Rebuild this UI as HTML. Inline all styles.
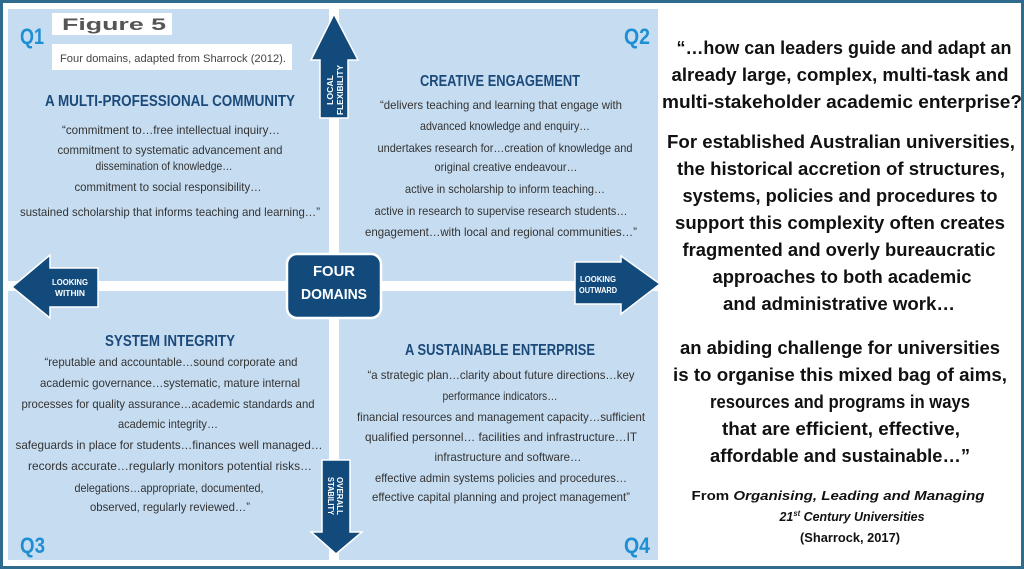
<!DOCTYPE html>
<html><head><meta charset="utf-8"><style>
html,body{margin:0;padding:0;background:#fff;}
svg{display:block;}
</style></head><body>
<svg width="1024" height="569" viewBox="0 0 1024 569" xmlns="http://www.w3.org/2000/svg" font-family="Liberation Sans, Arial, sans-serif">
<rect x="1.5" y="1.5" width="1021" height="566" fill="#fff" stroke="#2f6b8c" stroke-width="3"/>
<rect x="8" y="9" width="650" height="551" fill="#c6dcf0"/>
<rect x="329" y="9" width="10" height="551" fill="#fff"/>
<rect x="8" y="281" width="650" height="10" fill="#fff"/>
<g fill="#124a7c" stroke="#fff" stroke-width="1.5">
<polygon points="334,14 358,60 348,60 348,118 320,118 320,60 311,60"/>
<polygon points="12,287 50,255 50,268 98,268 98,307 50,307 50,318"/>
<polygon points="660,284 621,256 621,262 575,262 575,304 621,304 621,314"/>
<polygon points="336,554 362,532 350,532 350,460 322,460 322,532 311,532"/>
<rect x="287" y="254" width="94" height="64" rx="10" ry="10" stroke-width="2.5"/>
</g>
<g fill="#fff" font-weight="bold" text-anchor="middle">
<text x="334" y="276" font-size="15" textLength="42" lengthAdjust="spacingAndGlyphs">FOUR</text>
<text x="334" y="299" font-size="15" textLength="66" lengthAdjust="spacingAndGlyphs">DOMAINS</text>
<text x="70" y="285" font-size="8" textLength="36" lengthAdjust="spacingAndGlyphs">LOOKING</text>
<text x="70" y="296" font-size="8" textLength="30" lengthAdjust="spacingAndGlyphs">WITHIN</text>
<text x="598" y="282" font-size="8" textLength="36" lengthAdjust="spacingAndGlyphs">LOOKING</text>
<text x="598" y="293" font-size="8" textLength="38" lengthAdjust="spacingAndGlyphs">OUTWARD</text>
<text transform="translate(333,90) rotate(-90)" font-size="8" textLength="30" lengthAdjust="spacingAndGlyphs">LOCAL</text>
<text transform="translate(343,90) rotate(-90)" font-size="8" textLength="50" lengthAdjust="spacingAndGlyphs">FLEXIBILITY</text>
<text transform="translate(337,496) rotate(90)" font-size="8" textLength="38" lengthAdjust="spacingAndGlyphs">OVERALL</text>
<text transform="translate(328,496) rotate(90)" font-size="8" textLength="38" lengthAdjust="spacingAndGlyphs">STABILITY</text>
</g>
<g fill="#1d8fd2" font-weight="bold" font-size="22">
<text x="20" y="44" textLength="24" lengthAdjust="spacingAndGlyphs">Q1</text>
<text x="624" y="44" textLength="26" lengthAdjust="spacingAndGlyphs">Q2</text>
<text x="20" y="553" textLength="25" lengthAdjust="spacingAndGlyphs">Q3</text>
<text x="624" y="553" textLength="26" lengthAdjust="spacingAndGlyphs">Q4</text>
</g>
<rect x="52" y="13" width="120" height="22" fill="#fff"/>
<text x="62" y="30" font-size="17" font-weight="bold" fill="#555" textLength="104" lengthAdjust="spacingAndGlyphs">Figure 5</text>
<rect x="52" y="44" width="240" height="26" fill="#fff"/>
<text x="60" y="62" font-size="11" fill="#444" textLength="226" lengthAdjust="spacingAndGlyphs">Four domains, adapted from Sharrock (2012).</text>
<g fill="#1b4a7a" font-weight="bold" font-size="16" text-anchor="middle">
<text x="170" y="106" textLength="250" lengthAdjust="spacingAndGlyphs">A MULTI-PROFESSIONAL COMMUNITY</text>
<text x="500" y="86" textLength="160" lengthAdjust="spacingAndGlyphs">CREATIVE ENGAGEMENT</text>
<text x="170" y="346" textLength="130" lengthAdjust="spacingAndGlyphs">SYSTEM INTEGRITY</text>
<text x="500" y="355" textLength="190" lengthAdjust="spacingAndGlyphs">A SUSTAINABLE ENTERPRISE</text>
</g>
<g fill="#333" font-size="12" text-anchor="middle">
<text x="171" y="134" textLength="218" lengthAdjust="spacingAndGlyphs">“commitment to…free intellectual inquiry…</text>
<text x="170" y="154" textLength="225" lengthAdjust="spacingAndGlyphs">commitment to systematic advancement and</text>
<text x="164" y="170" textLength="137" lengthAdjust="spacingAndGlyphs">dissemination of knowledge…</text>
<text x="168" y="191" textLength="187" lengthAdjust="spacingAndGlyphs">commitment to social responsibility…</text>
<text x="170" y="216" textLength="300" lengthAdjust="spacingAndGlyphs">sustained scholarship that informs teaching and learning…”</text>
<text x="501" y="109" textLength="242" lengthAdjust="spacingAndGlyphs">“delivers teaching and learning that engage with</text>
<text x="505" y="130" textLength="170" lengthAdjust="spacingAndGlyphs">advanced knowledge and enquiry…</text>
<text x="505" y="152" textLength="255" lengthAdjust="spacingAndGlyphs">undertakes research for…creation of  knowledge and</text>
<text x="506" y="171" textLength="143" lengthAdjust="spacingAndGlyphs">original creative endeavour…</text>
<text x="505" y="193" textLength="200" lengthAdjust="spacingAndGlyphs">active in scholarship to inform teaching…</text>
<text x="501" y="215" textLength="253" lengthAdjust="spacingAndGlyphs">active in research to supervise research students…</text>
<text x="501" y="236" textLength="272" lengthAdjust="spacingAndGlyphs">engagement…with local and regional communities…”</text>
<text x="171" y="366" textLength="253" lengthAdjust="spacingAndGlyphs">“reputable and accountable…sound corporate and</text>
<text x="170" y="387" textLength="260" lengthAdjust="spacingAndGlyphs">academic governance…systematic, mature internal</text>
<text x="168" y="408" textLength="293" lengthAdjust="spacingAndGlyphs">processes for quality assurance…academic standards and</text>
<text x="168" y="428" textLength="100" lengthAdjust="spacingAndGlyphs">academic integrity…</text>
<text x="169" y="449" textLength="307" lengthAdjust="spacingAndGlyphs">safeguards in place for students…finances well managed…</text>
<text x="170" y="470" textLength="284" lengthAdjust="spacingAndGlyphs">records accurate…regularly monitors potential risks…</text>
<text x="169" y="492" textLength="189" lengthAdjust="spacingAndGlyphs">delegations…appropriate, documented,</text>
<text x="170" y="511" textLength="160" lengthAdjust="spacingAndGlyphs">observed, regularly reviewed…”</text>
<text x="501" y="379" textLength="267" lengthAdjust="spacingAndGlyphs">“a strategic plan…clarity about future directions…key</text>
<text x="500" y="400" textLength="115" lengthAdjust="spacingAndGlyphs">performance indicators…</text>
<text x="501" y="421" textLength="288" lengthAdjust="spacingAndGlyphs">financial resources and management capacity…sufficient</text>
<text x="501" y="441" textLength="272" lengthAdjust="spacingAndGlyphs">qualified personnel… facilities and infrastructure…IT</text>
<text x="508" y="461" textLength="147" lengthAdjust="spacingAndGlyphs">infrastructure and software…</text>
<text x="501" y="482" textLength="252" lengthAdjust="spacingAndGlyphs">effective admin systems policies and procedures…</text>
<text x="501" y="501" textLength="258" lengthAdjust="spacingAndGlyphs">effective capital planning and project management”</text>
</g>
<g fill="#111" font-weight="bold" font-size="18" text-anchor="middle">
<text x="844" y="54" textLength="335" lengthAdjust="spacingAndGlyphs">“…how can leaders guide and adapt an</text>
<text x="840" y="81" textLength="337" lengthAdjust="spacingAndGlyphs">already large, complex, multi-task and</text>
<text x="842" y="108" textLength="360" lengthAdjust="spacingAndGlyphs">multi-stakeholder academic enterprise?</text>
<text x="841" y="148" textLength="348" lengthAdjust="spacingAndGlyphs">For established Australian universities,</text>
<text x="841" y="175" textLength="328" lengthAdjust="spacingAndGlyphs">the historical accretion of structures,</text>
<text x="840" y="202" textLength="315" lengthAdjust="spacingAndGlyphs">systems, policies and procedures to</text>
<text x="840" y="229" textLength="330" lengthAdjust="spacingAndGlyphs">support this complexity often creates</text>
<text x="839" y="256" textLength="313" lengthAdjust="spacingAndGlyphs">fragmented and overly bureaucratic</text>
<text x="842" y="283" textLength="259" lengthAdjust="spacingAndGlyphs">approaches to both academic</text>
<text x="839" y="310" textLength="232" lengthAdjust="spacingAndGlyphs">and administrative work…</text>
<text x="840" y="354" textLength="320" lengthAdjust="spacingAndGlyphs">an abiding challenge for universities</text>
<text x="840" y="381" textLength="334" lengthAdjust="spacingAndGlyphs">is to organise this mixed bag of aims,</text>
<text x="840" y="408" textLength="260" lengthAdjust="spacingAndGlyphs">resources and programs in ways</text>
<text x="841" y="435" textLength="238" lengthAdjust="spacingAndGlyphs">that are efficient, effective,</text>
<text x="840" y="462" textLength="260" lengthAdjust="spacingAndGlyphs">affordable and sustainable…”</text>
</g>
<g fill="#111" font-weight="bold" font-size="13" text-anchor="middle">
<text x="838" y="500" textLength="293" lengthAdjust="spacingAndGlyphs">From <tspan font-style="italic">Organising, Leading and Managing</tspan></text>
<text x="852" y="521" font-style="italic" textLength="145" lengthAdjust="spacingAndGlyphs">21<tspan font-size="8" dy="-5">st</tspan><tspan dy="5"> Century Universities</tspan></text>
<text x="850" y="542" textLength="100" lengthAdjust="spacingAndGlyphs">(Sharrock, 2017)</text>
</g>
</svg>
</body></html>
